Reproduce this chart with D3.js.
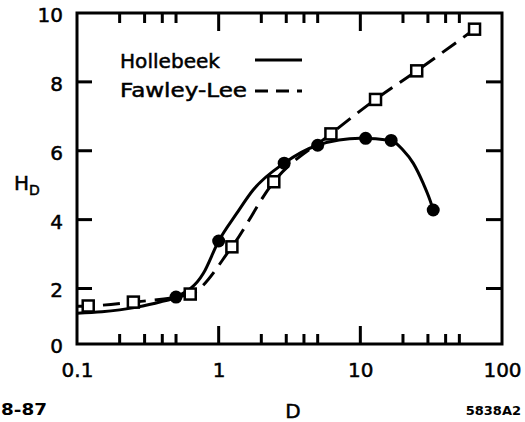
<!DOCTYPE html>
<html>
<head>
<meta charset="utf-8">
<script src="https://cdn.jsdelivr.net/npm/d3@7"></script>
<style>
  body { margin: 0; background: #fff; }
  svg { display: block; }
  text { font-family: "DejaVu Sans", sans-serif; fill: #000; }
</style>
</head>
<body>
<svg id="chart" width="525" height="422"></svg>
<script>
// measured points
const hollebeekD = [0.5, 1.0, 2.9, 5.0, 10.9, 16.5, 32.7];
const hollebeekH = [1.69, 3.38, 5.64, 6.16, 6.36, 6.30, 4.28];

const fawleyD = [0.12, 0.25, 0.63, 1.24, 2.45, 6.2, 12.8, 25, 64];
const fawleyH = [1.37, 1.51, 1.80, 3.21, 5.10, 6.49, 7.49, 8.32, 9.53];

// drawn curves
const hollebeekCurveD = [0.1, 0.15, 0.26, 0.39, 0.5, 0.78, 1.0, 1.34, 1.75, 2.9, 5.0, 10, 16.5, 20, 23.6, 27.8, 31, 32.7];
const hollebeekCurveH = [1.11, 1.16, 1.32, 1.52, 1.69, 2.44, 3.38, 4.18, 4.86, 5.64, 6.16, 6.36, 6.30, 6.02, 5.64, 5.05, 4.57, 4.28];
const fawleyCurveD = [0.1, 0.12, 0.25, 0.63, 1.24, 2.45, 6.2, 12.8, 25, 64];
const fawleyCurveH = [1.36, 1.37, 1.51, 1.80, 3.21, 5.10, 6.49, 7.49, 8.32, 9.53];

const xMajor = [0.1, 1, 10, 100];
const xMinor = [0.2, 0.3, 0.4, 0.5, 2, 3, 4, 5, 20, 30, 40, 50];
const yTicks = [0, 2, 4, 6, 8, 10];
const yInner = [2, 4, 6, 8];

const plotL = 77, plotR = 502, plotT = 13, plotB = 344;

const svg = d3.select("#chart");

const xScale = d3.scaleLog().domain([0.1, 100]).range([plotL, plotR]);
// the scanned figure has a squeezed 0-2 band
const yScale = d3.scaleLinear().domain([0, 2, 10]).range([plotB, 288.5, plotT]);

const hollebeek = hollebeekD.map((d, i) => ({ d, h: hollebeekH[i] }));
const fawley = fawleyD.map((d, i) => ({ d, h: fawleyH[i] }));
const hollebeekCurve = hollebeekCurveD.map((d, i) => ({ d, h: hollebeekCurveH[i] }));
const fawleyCurve = fawleyCurveD.map((d, i) => ({ d, h: fawleyCurveH[i] }));

const fmt = v => v === 0.1 ? "0.1" : String(v);

// tick labels through d3 axes
const bAxis = svg.append("g")
  .attr("transform", `translate(0,${plotB})`)
  .call(d3.axisBottom(xScale).tickValues(xMajor).tickSize(0).tickPadding(19).tickFormat(fmt));
const lAxis = svg.append("g")
  .attr("transform", `translate(${plotL},0)`)
  .call(d3.axisLeft(yScale).tickValues(yTicks).tickSize(0).tickPadding(14).tickFormat(d3.format("d")));

[bAxis, lAxis].forEach(g => {
  g.select(".domain").remove();
  g.selectAll("text")
    .attr("font-size", 20)
    .attr("font-family", "DejaVu Sans")
    .attr("fill", "#000")
    .attr("stroke", "#000")
    .attr("stroke-width", 0.5);
});
lAxis.selectAll("text").attr("dy", "0.42em");

// frame
svg.append("rect")
  .attr("x", plotL).attr("y", plotT)
  .attr("width", plotR - plotL).attr("height", plotB - plotT)
  .attr("fill", "none")
  .attr("stroke", "#000")
  .attr("stroke-width", 3);

// inward ticks as small filled bars
const xTickVals = [1, 10].concat(xMinor);
const tickLen = v => (v === 1 || v === 10) ? 18 : 10;
const tickG = svg.append("g").attr("fill", "#000");
tickG.selectAll(".tb")
  .data(xTickVals)
  .enter().append("rect")
  .attr("class", "tb")
  .attr("x", v => xScale(v) - 1.5)
  .attr("y", v => plotB - tickLen(v))
  .attr("width", 3)
  .attr("height", v => tickLen(v));
tickG.selectAll(".tt")
  .data(xTickVals)
  .enter().append("rect")
  .attr("class", "tt")
  .attr("x", v => xScale(v) - 1.5)
  .attr("y", plotT)
  .attr("width", 3)
  .attr("height", v => tickLen(v));
tickG.selectAll(".tl")
  .data(yInner)
  .enter().append("rect")
  .attr("class", "tl")
  .attr("x", plotL)
  .attr("y", v => yScale(v) - 1.5)
  .attr("width", 15)
  .attr("height", 3);
tickG.selectAll(".tr")
  .data(yInner)
  .enter().append("rect")
  .attr("class", "tr")
  .attr("x", plotR - 16)
  .attr("y", v => yScale(v) - 1.5)
  .attr("width", 16)
  .attr("height", 3);

const line = d3.line()
  .x(p => xScale(p.d))
  .y(p => yScale(p.h))
  .curve(d3.curveMonotoneX);

svg.append("path")
  .datum(fawleyCurve)
  .attr("d", line)
  .attr("fill", "none")
  .attr("stroke", "#000")
  .attr("stroke-width", 3)
  .attr("stroke-dasharray", "17,9");

svg.append("path")
  .datum(hollebeekCurve)
  .attr("d", line)
  .attr("fill", "none")
  .attr("stroke", "#000")
  .attr("stroke-width", 3);

svg.selectAll(".sq")
  .data(fawley)
  .enter().append("rect")
  .attr("class", "sq")
  .attr("x", p => xScale(p.d) - 5.5)
  .attr("y", p => yScale(p.h) - 5.5)
  .attr("width", 11)
  .attr("height", 11)
  .attr("fill", "#fff")
  .attr("stroke", "#000")
  .attr("stroke-width", 2.5);

svg.selectAll(".dot")
  .data(hollebeek)
  .enter().append("circle")
  .attr("class", "dot")
  .attr("cx", p => xScale(p.d))
  .attr("cy", p => yScale(p.h))
  .attr("r", 6.5)
  .attr("fill", "#000");

// legend
const legend = svg.append("g");
legend.append("text")
  .attr("x", 120).attr("y", 68)
  .attr("font-size", 20)
  .attr("textLength", 100)
  .attr("lengthAdjust", "spacingAndGlyphs")
  .attr("stroke", "#000").attr("stroke-width", 0.5)
  .text("Hollebeek");
legend.append("text")
  .attr("x", 120).attr("y", 97)
  .attr("font-size", 20)
  .attr("textLength", 127)
  .attr("lengthAdjust", "spacingAndGlyphs")
  .attr("stroke", "#000").attr("stroke-width", 0.5)
  .text("Fawley-Lee");
legend.append("line")
  .attr("x1", 255).attr("x2", 302).attr("y1", 60).attr("y2", 60)
  .attr("stroke", "#000").attr("stroke-width", 3);
legend.append("line")
  .attr("x1", 255).attr("x2", 302).attr("y1", 91).attr("y2", 91)
  .attr("stroke", "#000").attr("stroke-width", 3)
  .attr("stroke-dasharray", "13,8");

// axis titles
const yTitle = svg.append("text")
  .attr("x", 14).attr("y", 190)
  .attr("font-size", 20)
  .attr("stroke", "#000").attr("stroke-width", 0.5);
yTitle.append("tspan").text("H");
yTitle.append("tspan").attr("font-size", 14).attr("dy", 5).text("D");

svg.append("text")
  .attr("x", 293).attr("y", 418)
  .attr("text-anchor", "middle")
  .attr("font-size", 20)
  .attr("stroke", "#000").attr("stroke-width", 0.5)
  .text("D");

svg.append("text")
  .attr("x", 1).attr("y", 415)
  .attr("font-size", 15)
  .attr("font-weight", "bold")
  .attr("textLength", 46)
  .attr("lengthAdjust", "spacingAndGlyphs")
  .text("8-87");

svg.append("text")
  .attr("x", 521).attr("y", 415)
  .attr("text-anchor", "end")
  .attr("font-size", 13)
  .attr("font-weight", "bold")
  .text("5838A2");
</script>
</body>
</html>
